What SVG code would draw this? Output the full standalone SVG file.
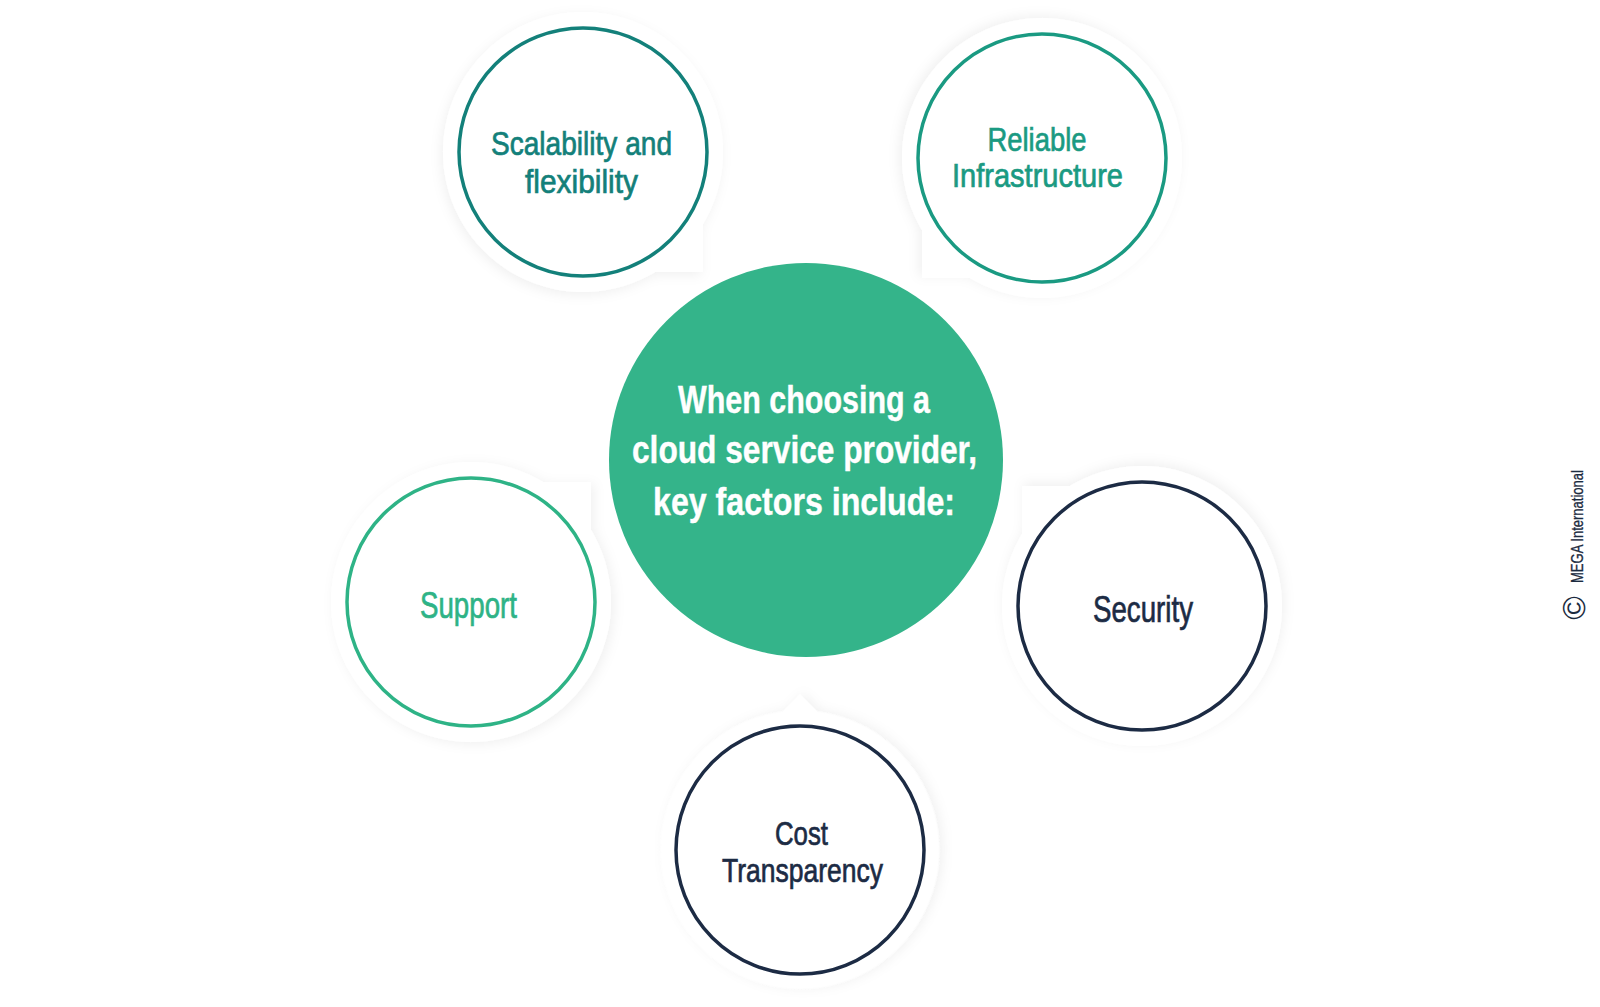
<svg xmlns="http://www.w3.org/2000/svg" width="1600" height="1007" viewBox="0 0 1600 1007">
<defs>
<style>
.lbl{font-family:"Liberation Sans Narrow","Liberation Sans",Arial,sans-serif;text-anchor:middle;stroke-width:0.7}
.two{font-size:33px}
.one{font-size:37px}
.ctr{font-family:"Liberation Sans Narrow","Liberation Sans",Arial,sans-serif;font-weight:bold;font-size:38px;fill:#ffffff;stroke:#ffffff;stroke-width:0.4;text-anchor:middle}
.bub{fill:#ffffff;filter:url(#sh)}
.ring{fill:none;stroke-width:3.5}
</style>
<filter id="sh" x="-30%" y="-30%" width="160%" height="160%">
<feDropShadow dx="-2" dy="3" stdDeviation="6" flood-color="#000000" flood-opacity="0.06"/>
</filter>
<path id="bubble" d="M120 72.1 L120 120 L72.1 120 A140 140 0 1 1 120 72.1 Z"/>
<path id="bubble2" d="M110 85.5 L110 110 L85.5 110 A139 139 0 1 1 110 85.5 Z"/>
</defs>
<rect width="1600" height="1007" fill="#ffffff"/>

<g id="node-scalability">
<use href="#bubble" class="bub" transform="translate(583,152)"/>
<circle cx="583" cy="152" r="124" class="ring" stroke="#13807a"/>
<text class="lbl two" fill="#13807a" stroke="#13807a" x="581.5" y="155" textLength="181" lengthAdjust="spacingAndGlyphs">Scalability and</text>
<text class="lbl two" fill="#13807a" stroke="#13807a" x="581.5" y="193" textLength="113" lengthAdjust="spacingAndGlyphs">flexibility</text>
</g>

<g id="node-reliable">
<use href="#bubble" class="bub" transform="translate(1042,158) rotate(90)"/>
<circle cx="1042" cy="158" r="124" class="ring" stroke="#1a9a82"/>
<text class="lbl two" fill="#1a9a82" stroke="#1a9a82" x="1037" y="151" textLength="99" lengthAdjust="spacingAndGlyphs">Reliable</text>
<text class="lbl two" fill="#1a9a82" stroke="#1a9a82" x="1037.5" y="187" textLength="171" lengthAdjust="spacingAndGlyphs">Infrastructure</text>
</g>

<g id="node-support">
<use href="#bubble" class="bub" transform="translate(471,602) rotate(-90)"/>
<circle cx="471" cy="602" r="124" class="ring" stroke="#2eb386"/>
<text class="lbl one" fill="#2eb386" stroke="#2eb386" x="468.5" y="618" textLength="97" lengthAdjust="spacingAndGlyphs">Support</text>
</g>

<g id="node-security">
<use href="#bubble" class="bub" transform="translate(1142,606) rotate(180)"/>
<circle cx="1142" cy="606" r="124" class="ring" stroke="#1c2b44"/>
<text class="lbl one" fill="#1c2b44" stroke="#1c2b44" x="1143" y="622" textLength="100" lengthAdjust="spacingAndGlyphs">Security</text>
</g>

<g id="node-cost">
<use href="#bubble2" class="bub" transform="translate(800,850) rotate(-135)"/>
<circle cx="800" cy="850" r="124" class="ring" stroke="#1c2b44"/>
<text class="lbl two" fill="#1c2b44" stroke="#1c2b44" x="801.5" y="845" textLength="53" lengthAdjust="spacingAndGlyphs">Cost</text>
<text class="lbl two" fill="#1c2b44" stroke="#1c2b44" x="802.5" y="882" textLength="161" lengthAdjust="spacingAndGlyphs">Transparency</text>
</g>

<g id="node-center">
<circle cx="806" cy="460" r="197" fill="#34b48a"/>
<text class="ctr" x="804" y="413" textLength="252" lengthAdjust="spacingAndGlyphs">When choosing a</text>
<text class="ctr" x="804.5" y="463" textLength="345" lengthAdjust="spacingAndGlyphs">cloud service provider,</text>
<text class="ctr" x="804" y="515" textLength="302" lengthAdjust="spacingAndGlyphs">key factors include:</text>
</g>

<g id="connectors"></g>

<g id="copyright" fill="#1c2b40">
<text transform="translate(1573,608) rotate(-90)" x="0" y="11.5" font-family="'Liberation Sans',Arial,sans-serif" font-size="32" text-anchor="middle">©</text>
<text transform="translate(1583,583) rotate(-90)" x="0" y="0" font-family="'Liberation Sans Narrow','Liberation Sans',Arial,sans-serif" font-size="16" stroke="#1c2b40" stroke-width="0.3" textLength="113" lengthAdjust="spacingAndGlyphs">MEGA International</text>
</g>
</svg>
